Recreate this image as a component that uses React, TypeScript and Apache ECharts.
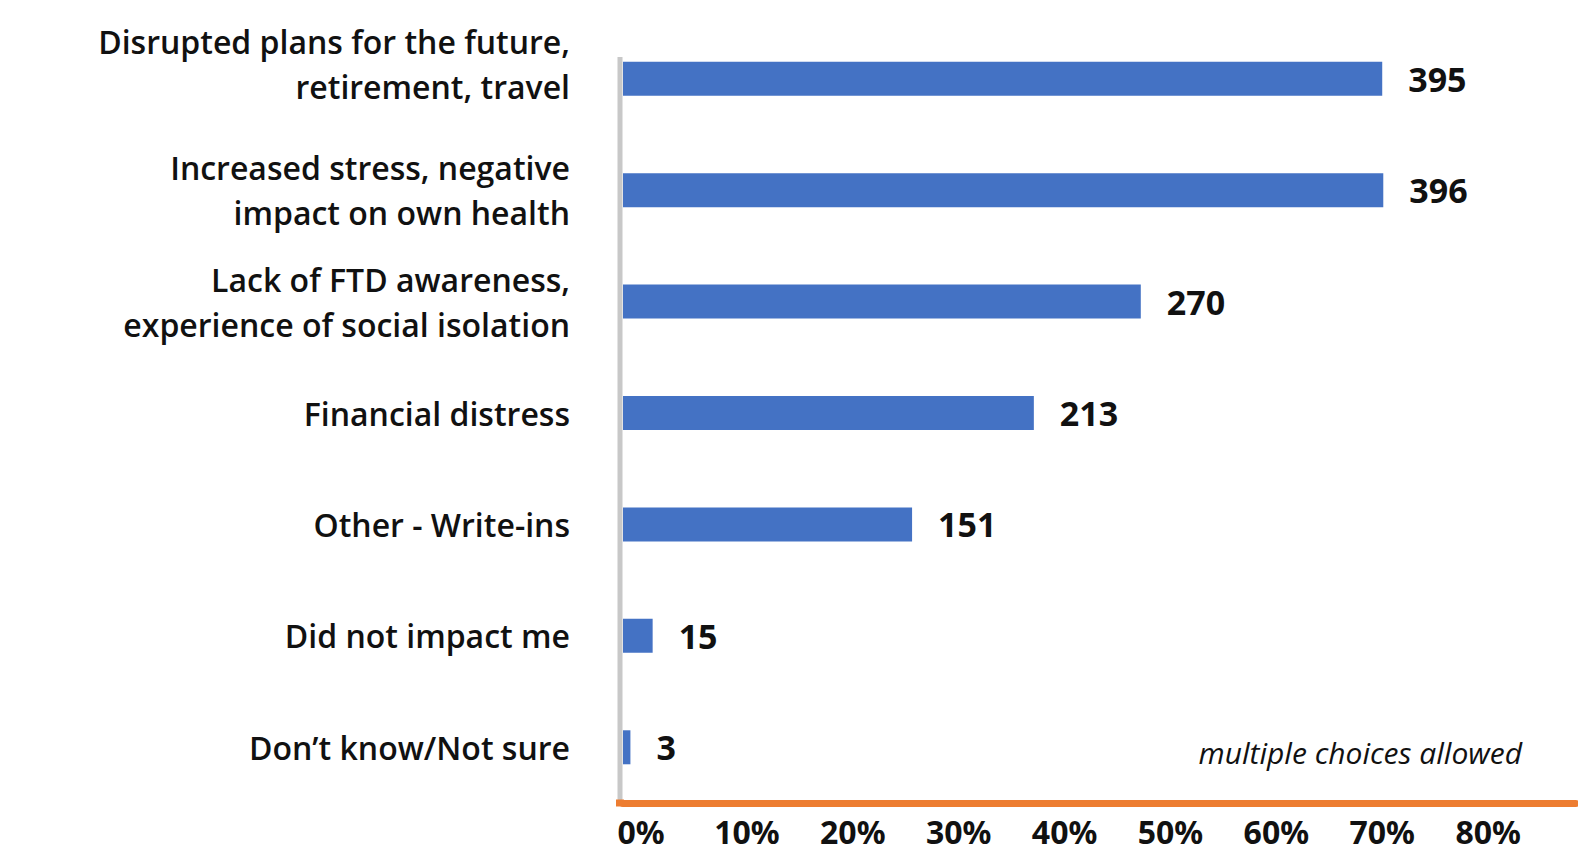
import React, { useEffect, useRef } from "react";
import * as echarts from "echarts";

const categories = [
  "Disrupted plans for the future,\nretirement, travel",
  "Increased stress, negative\nimpact on own health",
  "Lack of FTD awareness,\nexperience of social isolation",
  "Financial distress",
  "Other - Write-ins",
  "Did not impact me",
  "Don\u2019t know/Not sure",
];
const percentValues = [71.7, 71.8, 48.9, 38.8, 27.3, 2.8, 0.7];
const countLabels = [395, 396, 270, 213, 151, 15, 3];
const xTicks = [0, 10, 20, 30, 40, 50, 60, 70, 80];
const noteText = "multiple choices allowed";

const LABEL_FONT = "'Open Sans', 'Noto Sans', sans-serif";
const NUM_FONT = "'Noto Sans', 'Open Sans', sans-serif";

export default function App() {
  const ref = useRef<HTMLDivElement>(null);
  useEffect(() => {
    if (!ref.current) return;
    const chart = echarts.init(ref.current, null, { renderer: "svg" });
    chart.setOption({
      animation: false,
      backgroundColor: "#ffffff",
      grid: { left: 623, right: 2, top: 23, height: 780, containLabel: false },
      xAxis: {
        type: "value",
        min: 0,
        max: 90,
        interval: 10,
        axisLine: { show: true, lineStyle: { color: "#ED7D31", width: 7 } },
        axisTick: { show: false },
        splitLine: { show: false },
        axisLabel: {
          margin: 13,
          color: "#111111",
          fontFamily: NUM_FONT,
          fontWeight: "bold",
          fontSize: 32,
          lineHeight: 31,
          padding: [0, 0, 0, 36],
          showMaxLabel: false,
          formatter: (v: number) => (xTicks.indexOf(v) >= 0 ? v + "%" : ""),
        },
      },
      yAxis: {
        type: "category",
        inverse: true,
        data: categories,
        axisLine: { show: false },
        axisTick: { show: false },
        axisLabel: {
          margin: 53,
          color: "#111111",
          fontFamily: LABEL_FONT,
          fontWeight: 600,
          fontSize: 32,
          lineHeight: 45,
          align: "right",
          formatter: (v: string, i: number) =>
            i === 0
              ? v
                  .split("\n")
                  .map((s) => "{t|" + s + "}")
                  .join("\n") + "\n{s| }"
              : v,
          rich: {
            t: {
              fontFamily: LABEL_FONT,
              fontWeight: 600,
              fontSize: 32,
              lineHeight: 45,
              color: "#111111",
            },
            s: { fontSize: 10, lineHeight: 30 },
          },
        },
      },
      series: [
        {
          type: "bar",
          data: percentValues,
          barWidth: 34,
          itemStyle: { color: "#4472C4" },
          label: {
            show: true,
            position: "right",
            distance: 26,
            color: "#111111",
            fontFamily: NUM_FONT,
            fontWeight: "bold",
            fontSize: 34,
            formatter: (p: any) => String(countLabels[p.dataIndex]),
          },
        },
      ],
      graphic: [
        {
          type: "line",
          shape: { x1: 620, y1: 57, x2: 620, y2: 800 },
          style: { stroke: "#C8C8C8", lineWidth: 5 },
          z: 0,
        },
        {
          type: "rect",
          shape: { x: 616, y: 799.5, width: 8, height: 7 },
          style: { fill: "#ED7D31" },
          z: 10,
        },
        {
          type: "text",
          x: 1522,
          y: 752,
          style: {
            text: noteText,
            font: "italic 30px 'Open Sans', 'Noto Sans', sans-serif",
            fill: "#111111",
            align: "right",
            verticalAlign: "middle",
          },
        },
      ],
    });
    return () => chart.dispose();
  }, []);
  return (
    <div
      ref={ref}
      style={{ position: "fixed", left: 0, top: 0, width: 1578, height: 855 }}
    />
  );
}
